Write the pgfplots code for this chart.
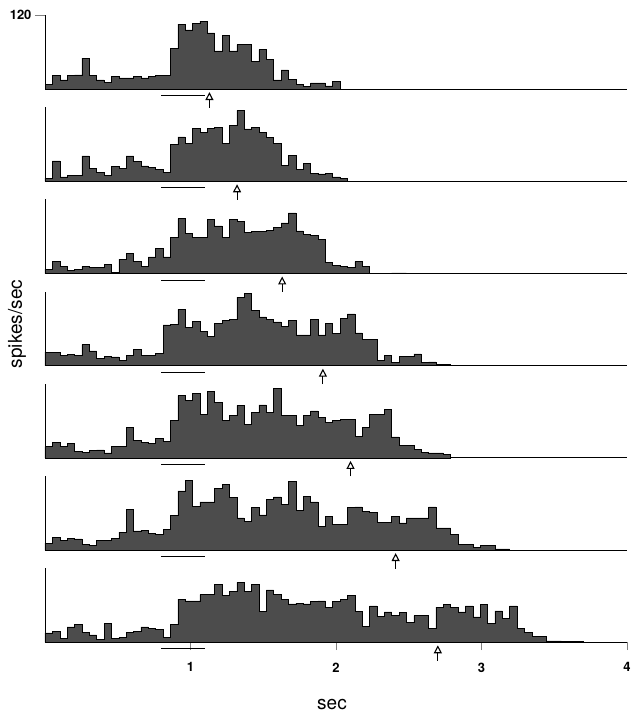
\documentclass[border=0pt]{standalone}
\usepackage{fontspec}
\setmainfont{TeX Gyre Heros}
\usepackage{pgfplots}
\pgfplotsset{compat=1.18}
\usepackage{pgfplotstable}
\usetikzlibrary{arrows.meta}

\definecolor{histfill}{gray}{0.3}

% spikes/sec in 50 ms bins (bin width on the drawn time axis = 0.0507 s)
\pgfplotstableread[row sep=\\]{
v\\ 7\\ 22\\ 15\\ 22\\ 23\\ 50\\ 22\\ 15\\ 11\\ 20\\ 18\\ 18\\ 20\\ 18\\ 20\\ 22\\ 22\\ 66\\ 105\\ 96\\ 107\\ 110\\ 91\\ 62\\ 87\\ 62\\ 72\\ 72\\ 45\\ 64\\ 48\\ 15\\ 31\\ 16\\ 7\\ 4\\ 10\\ 10\\ 5\\ 12\\ 0\\
}\tA
\pgfplotstableread[row sep=\\]{
v\\ 5\\ 33\\ 7\\ 9\\ 9\\ 41\\ 21\\ 14\\ 9\\ 24\\ 21\\ 41\\ 32\\ 25\\ 22\\ 19\\ 14\\ 60\\ 72\\ 61\\ 86\\ 79\\ 86\\ 87\\ 61\\ 91\\ 115\\ 85\\ 87\\ 79\\ 71\\ 61\\ 26\\ 42\\ 19\\ 29\\ 13\\ 12\\ 13\\ 7\\ 5\\ 0\\
}\tB
\pgfplotstableread[row sep=\\]{
v\\ 7\\ 19\\ 11\\ 5\\ 6\\ 11\\ 10\\ 10\\ 15\\ 2\\ 23\\ 32\\ 20\\ 12\\ 27\\ 41\\ 27\\ 58\\ 89\\ 65\\ 58\\ 58\\ 88\\ 77\\ 58\\ 88\\ 84\\ 66\\ 68\\ 68\\ 70\\ 75\\ 82\\ 98\\ 69\\ 63\\ 62\\ 55\\ 18\\ 13\\ 11\\ 10\\ 19\\ 11\\ 0\\ 0\\ 0\\ 1\\ 1\\ 0\\
}\tC
\pgfplotstableread[row sep=\\]{
v\\ 22\\ 22\\ 17\\ 18\\ 17\\ 34\\ 24\\ 12\\ 15\\ 14\\ 9\\ 16\\ 26\\ 16\\ 17\\ 20\\ 66\\ 67\\ 91\\ 62\\ 72\\ 56\\ 48\\ 69\\ 73\\ 75\\ 111\\ 117\\ 89\\ 79\\ 75\\ 71\\ 64\\ 73\\ 50\\ 50\\ 75\\ 50\\ 69\\ 52\\ 77\\ 84\\ 53\\ 42\\ 42\\ 8\\ 17\\ 5\\ 15\\ 15\\ 19\\ 5\\ 6\\ 2\\ 2\\ 0\\
}\tD
\pgfplotstableread[row sep=\\]{
v\\ 18\\ 25\\ 18\\ 24\\ 11\\ 9\\ 12\\ 13\\ 8\\ 18\\ 18\\ 49\\ 28\\ 25\\ 24\\ 31\\ 27\\ 61\\ 101\\ 93\\ 104\\ 71\\ 108\\ 90\\ 61\\ 69\\ 85\\ 54\\ 74\\ 86\\ 74\\ 113\\ 69\\ 69\\ 52\\ 69\\ 76\\ 66\\ 57\\ 61\\ 62\\ 62\\ 35\\ 49\\ 70\\ 70\\ 78\\ 34\\ 20\\ 20\\ 14\\ 9\\ 8\\ 8\\ 5\\ 0\\
}\tE
\pgfplotstableread[row sep=\\]{
v\\ 11\\ 20\\ 16\\ 19\\ 18\\ 9\\ 8\\ 16\\ 16\\ 19\\ 29\\ 66\\ 31\\ 32\\ 27\\ 25\\ 33\\ 56\\ 96\\ 113\\ 71\\ 78\\ 78\\ 100\\ 107\\ 85\\ 52\\ 46\\ 69\\ 57\\ 82\\ 86\\ 74\\ 111\\ 64\\ 87\\ 78\\ 38\\ 54\\ 42\\ 42\\ 69\\ 70\\ 63\\ 61\\ 45\\ 45\\ 54\\ 44\\ 52\\ 52\\ 52\\ 70\\ 36\\ 36\\ 25\\ 9\\ 9\\ 4\\ 8\\ 8\\ 2\\ 2\\ 0\\
}\tF
\pgfplotstableread[row sep=\\]{
v\\ 15\\ 18\\ 6\\ 25\\ 29\\ 16\\ 12\\ 5\\ 31\\ 6\\ 8\\ 16\\ 18\\ 25\\ 22\\ 21\\ 8\\ 29\\ 70\\ 67\\ 67\\ 77\\ 78\\ 94\\ 76\\ 83\\ 97\\ 82\\ 94\\ 50\\ 85\\ 77\\ 69\\ 62\\ 63\\ 62\\ 66\\ 67\\ 56\\ 66\\ 69\\ 76\\ 50\\ 26\\ 59\\ 42\\ 49\\ 44\\ 48\\ 32\\ 43\\ 43\\ 22\\ 57\\ 61\\ 57\\ 49\\ 59\\ 41\\ 61\\ 30\\ 51\\ 39\\ 59\\ 23\\ 16\\ 10\\ 10\\ 2\\ 2\\ 1\\ 1\\ 1\\ 0\\
}\tG

\pgfplotsset{
  panel/.style={
    scale only axis, width=582pt, height=74pt,
    xmin=0, xmax=4, ymin=0, ymax=120,
    axis x line*=bottom, axis y line*=left,
    axis line style={line width=0.8pt},
    xtick=\empty, ytick=\empty,
    clip=false, anchor=south west,
  },
  hist/.style={const plot, fill=histfill, draw=black, line width=0.5pt},
}
\newcommand{\stim}{\draw[line width=1pt] (axis cs:0.8,-11) -- (axis cs:1.1,-11);}
\newcommand{\arr}[1]{\draw[line width=1.1pt,-{Triangle[open,length=8pt,width=8pt]}] (axis cs:#1,-30) -- (axis cs:#1,-5);}

\begin{document}
\begin{tikzpicture}
\path[use as bounding box] (-45pt,-631pt) rectangle (585pt,89pt);

\begin{axis}[panel, at={(0pt,0pt)},
  ytick={120}, tick align=outside, major tick length=10pt,
  yticklabel style={font=\fontsize{13}{13}\selectfont\bfseries},
  /pgf/number format/assume math mode=true, tick style={line width=0.8pt}]
\addplot[hist] table[x expr=\coordindex*0.0507, y=v] {\tA} \closedcycle;
\stim \arr{1.13}
\end{axis}

\begin{axis}[panel, at={(0pt,-92.2pt)}]
\addplot[hist] table[x expr=\coordindex*0.0507, y=v] {\tB} \closedcycle;
\stim \arr{1.32}
\end{axis}

\begin{axis}[panel, at={(0pt,-184.4pt)}]
\addplot[hist] table[x expr=\coordindex*0.0507, y=v] {\tC} \closedcycle;
\stim \arr{1.63}
\end{axis}

\begin{axis}[panel, at={(0pt,-276.6pt)}]
\addplot[hist] table[x expr=\coordindex*0.0507, y=v] {\tD} \closedcycle;
\stim \arr{1.91}
\end{axis}

\begin{axis}[panel, at={(0pt,-368.8pt)}]
\addplot[hist] table[x expr=\coordindex*0.0507, y=v] {\tE} \closedcycle;
\stim \arr{2.10}
\end{axis}

\begin{axis}[panel, at={(0pt,-461pt)}]
\addplot[hist] table[x expr=\coordindex*0.0507, y=v] {\tF} \closedcycle;
\stim \arr{2.41}
\end{axis}

\begin{axis}[panel, at={(0pt,-553.2pt)},
  xtick={1,2,3,4}, tick align=outside, major tick length=8pt,
  xticklabel style={font=\fontsize{13}{13}\selectfont\bfseries, yshift=-9pt},
  /pgf/number format/assume math mode=true, tick style={line width=0.8pt}]
\addplot[hist] table[x expr=\coordindex*0.0507, y=v] {\tG} \closedcycle;
\stim \arr{2.70}
\end{axis}

\node[rotate=90, font=\fontsize{19}{19}\selectfont] at (-28pt,-235pt) {spikes/sec};
\node[font=\fontsize{19}{19}\selectfont] at (287pt,-616pt) {sec};
\end{tikzpicture}
\end{document}
